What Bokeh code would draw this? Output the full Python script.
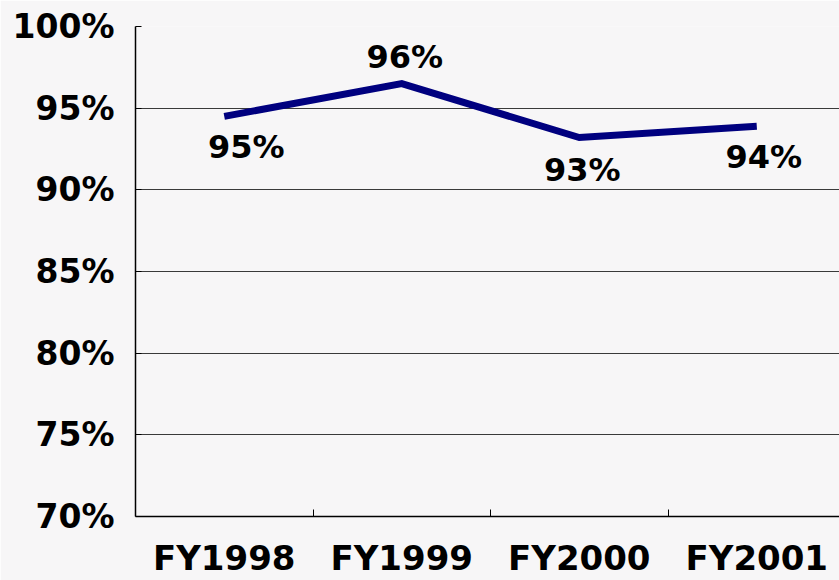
from bokeh.plotting import figure
from bokeh.models import Range1d, FixedTicker, PrintfTickFormatter
from bokeh.core.properties import value
from bokeh.embed import file_html
from bokeh.resources import INLINE

# ---- data ----
categories = ["FY1998", "FY1999", "FY2000", "FY2001"]
rates = [94.5, 96.5, 93.2, 93.9]
rate_labels = ["95%", "96%", "93%", "94%"]
y_ticks = [70, 75, 80, 85, 90, 95, 100]

# label placement (screen px offsets relative to each point)
label_dx = [22, 3, 3, 7]
label_dy = [31, -27, 32, 31]

FONT = "DejaVu Sans"
BG = "#F7F6F7"

xs = [i + 0.5 for i in range(len(categories))]

p = figure(width=839, height=580, output_backend="svg", toolbar_location=None,
           x_range=Range1d(0, 3.966), y_range=Range1d(70, 100),
           min_border_left=135, min_border_right=0, min_border_top=26,
           min_border_bottom=64)
p.background_fill_color = BG
p.border_fill_color = BG
p.outline_line_color = None

p.line(xs, rates, line_color="#00007F", line_width=7, line_join="miter")
p.text(xs, rates, text=rate_labels, x_offset=label_dx, y_offset=label_dy,
       text_align="center", text_baseline="middle",
       text_font=value(FONT), text_font_style="bold",
       text_font_size="32px", text_color="#000000")

# x axis
xa = p.xaxis[0]
xa.ticker = FixedTicker(ticks=xs, minor_ticks=[1, 2, 3])
xa.major_label_overrides = {x: c for x, c in zip(xs, categories)}
xa.major_tick_line_color = None
xa.minor_tick_in = 7
xa.minor_tick_out = 0
xa.minor_tick_line_color = "#000000"
xa.axis_line_color = "#000000"
xa.axis_line_width = 1.5
xa.major_label_standoff = 15
xa.major_label_text_font = FONT
xa.major_label_text_font_style = "bold"
xa.major_label_text_font_size = "34px"
xa.major_label_text_color = "#000000"

# y axis
ya = p.yaxis[0]
ya.ticker = FixedTicker(ticks=y_ticks)
ya.formatter = PrintfTickFormatter(format="%d%%")
ya.major_tick_in = 6
ya.major_tick_out = 0
ya.minor_tick_line_color = None
ya.axis_line_color = "#000000"
ya.axis_line_width = 1.5
ya.major_label_standoff = 21
ya.major_label_text_font = FONT
ya.major_label_text_font_style = "bold"
ya.major_label_text_font_size = "33px"
ya.major_label_text_color = "#000000"

p.xgrid.grid_line_color = None
p.ygrid.ticker = FixedTicker(ticks=y_ticks)
p.ygrid.grid_line_color = "#3A3A3A"
p.ygrid.grid_line_width = 1

open("out.html", "w").write(file_html(p, INLINE))
